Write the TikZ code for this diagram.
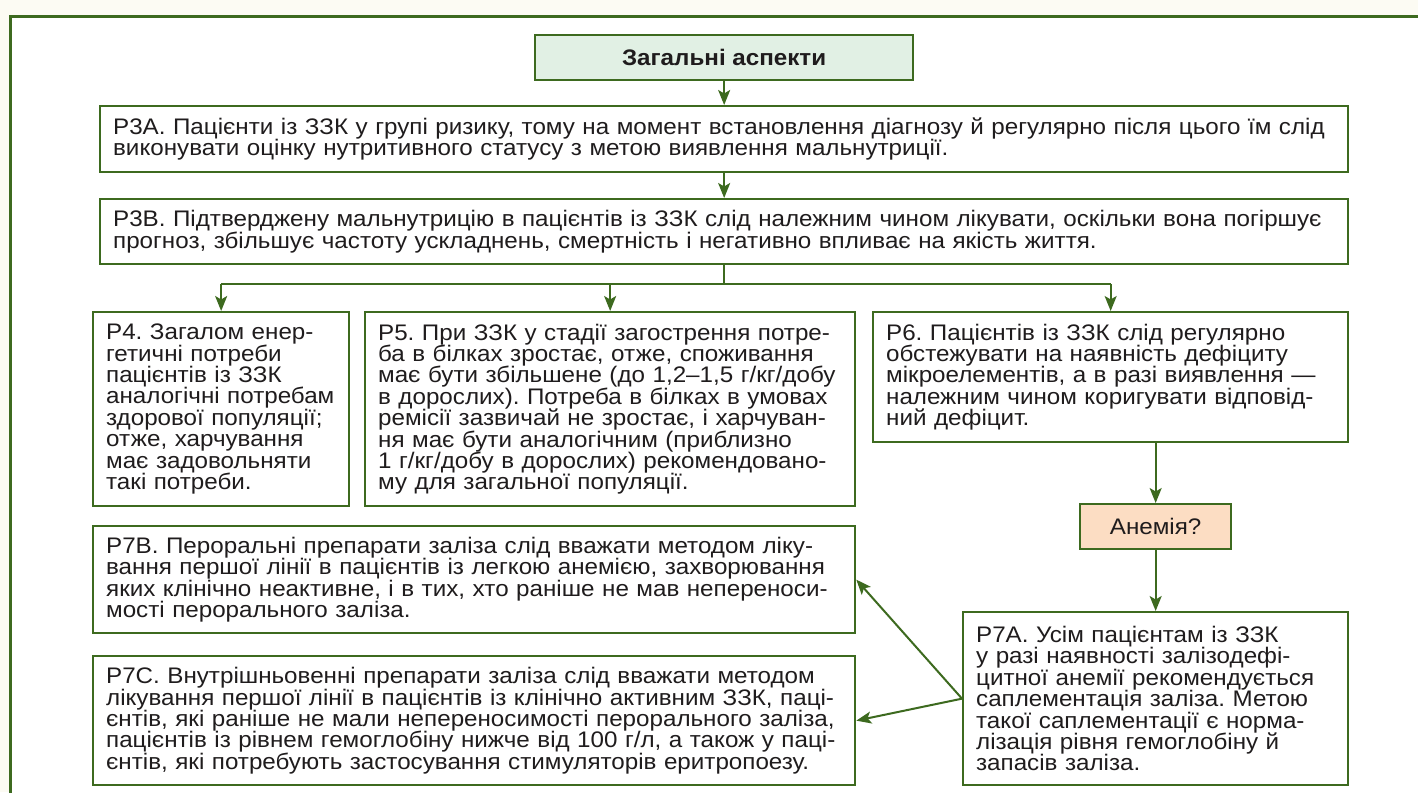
\documentclass[tikz,border=0pt]{standalone}
\usepackage{fontspec}
\setmainfont[FakeStretch=1.075]{Liberation Sans}
\usetikzlibrary{arrows.meta,calc}
\definecolor{gline}{HTML}{3D6A1F}
\definecolor{txt}{HTML}{1F1C1D}
\definecolor{titlefill}{HTML}{E1F0E4}
\definecolor{anemfill}{HTML}{FCDDC3}
\definecolor{cream}{HTML}{FCFBF3}
\frenchspacing
\begin{document}
\begin{tikzpicture}[x=1pt,y=-1pt,
  box/.style={draw=gline,line width=2.3pt,fill=white,anchor=north west,align=left,
    inner xsep=13pt,inner ysep=0pt,text=txt,font=\fontsize{22.5}{21.4}\selectfont},
  conn/.style={draw=gline,line width=2pt},
  arr/.style={conn,-{Stealth[length=15pt,width=12pt,inset=3.5pt]}}]
\useasboundingbox (0,0) rectangle (1418,792);
\fill[cream] (0,0) rectangle (1418,792);
\begin{scope}
\clip (0,0) rectangle (1418,792);
\draw[gline,line width=3pt,fill=white] (10.5,16.5) rectangle (1440,820);
\end{scope}
% title
\node[draw=gline,line width=2.3pt,fill=titlefill,anchor=north west,minimum width=378pt,minimum height=45pt,
  inner sep=0pt,text=txt,font=\fontsize{22.5}{24}\selectfont\bfseries] (title) at (534,34) {Загальні аспекти};
\node[box,text width=1222pt,minimum height=66pt] (p3a) at (99,105)
 {Р3А. Пацієнти із ЗЗК у групі ризику, тому на момент встановлення діагнозу й регулярно після цього їм слід\\
 виконувати оцінку нутритивного статусу з метою виявлення мальнутриції.};
\node[box,text width=1222pt,minimum height=65pt] (p3b) at (99,198)
 {Р3В. Підтверджену мальнутрицію в пацієнтів із ЗЗК слід належним чином лікувати, оскільки вона погіршує\\
 прогноз, збільшує частоту ускладнень, смертність і негативно впливає на якість життя.};
\node[box,text width=230pt,minimum height=194pt] (p4) at (92,311)
 {Р4. Загалом енер-\\гетичні потреби\\пацієнтів із ЗЗК\\аналогічні потребам\\здорової популяції;\\отже, харчування\\має задовольняти\\такі потреби.};
\node[box,text width=464pt,minimum height=194pt] (p5) at (364,311)
 {Р5. При ЗЗК у стадії загострення потре-\\ба в білках зростає, отже, споживання\\має бути збільшене (до 1,2–1,5 г/кг/добу\\в дорослих). Потреба в білках в умовах\\ремісії зазвичай не зростає, і харчуван-\\ня має бути аналогічним (приблизно\\1 г/кг/добу в дорослих) рекомендовано-\\му для загальної популяції.};
\node[box,text width=449pt,minimum height=130pt] (p6) at (872,311)
 {Р6. Пацієнтів із ЗЗК слід регулярно\\обстежувати на наявність дефіциту\\мікроелементів, а в разі виявлення —\\належним чином коригувати відповід-\\ний дефіцит.};
\node[draw=gline,line width=2.3pt,fill=anemfill,anchor=north west,minimum width=151pt,minimum height=45pt,
  inner sep=0pt,text=txt,font=\fontsize{22.5}{24}\selectfont] (anem) at (1079,503) {Анемія?};
\node[box,text width=359pt,minimum height=173pt] (p7a) at (962,611)
 {Р7А. Усім пацієнтам із ЗЗК\\у разі наявності залізодефі-\\цитної анемії рекомендується\\саплементація заліза. Метою\\такої саплементації є норма-\\лізація рівня гемоглобіну й\\запасів заліза.};
\node[box,text width=736pt,minimum height=107pt] (p7b) at (92,525)
 {Р7В. Пероральні препарати заліза слід вважати методом ліку-\\вання першої лінії в пацієнтів із легкою анемією, захворювання\\яких клінічно неактивне, і в тих, хто раніше не мав непереноси-\\мості перорального заліза.};
\node[box,text width=736pt,minimum height=129pt] (p7c) at (92,655)
 {Р7С. Внутрішньовенні препарати заліза слід вважати методом\\лікування першої лінії в пацієнтів із клінічно активним ЗЗК, паці-\\єнтів, які раніше не мали непереносимості перорального заліза,\\пацієнтів із рівнем гемоглобіну нижче від 100 г/л, а також у паці-\\єнтів, які потребують застосування стимуляторів еритропоезу.};
% connectors
\coordinate (bar) at (0,284);
\draw[arr] (title) -- (p3a);
\draw[arr] (p3a) -- (p3b);
\draw[conn] (p3b.south) -- (p3b.south |- bar);
\draw[conn] (p4.north |- bar) -- (p6.north |- bar);
\draw[arr] (p4.north |- bar) -- (p4.north);
\draw[arr] (p5.north |- bar) -- (p5.north);
\draw[arr] (p6.north |- bar) -- (p6.north);
\draw[arr] (anem.north |- p6.south) -- (anem.north);
\draw[arr] (anem) -- (p7a);
\draw[arr] (p7a.west) -- (p7b.east);
\draw[arr] (p7a.west) -- (p7c.east);
\end{tikzpicture}
\end{document}
